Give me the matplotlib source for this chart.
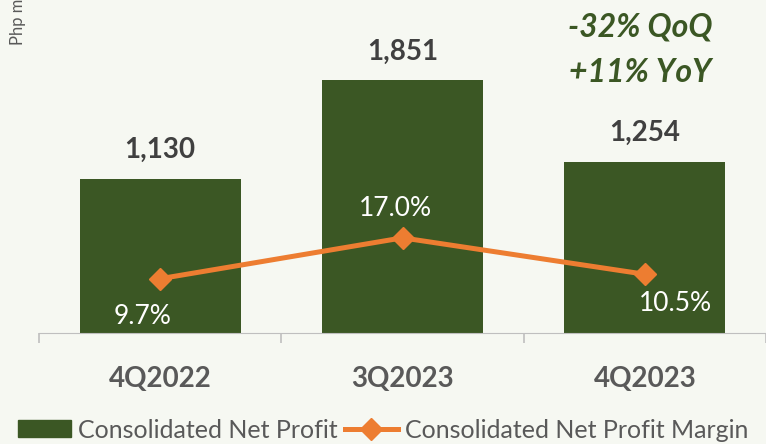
import matplotlib.pyplot as plt
from matplotlib.lines import Line2D
from matplotlib.patches import Patch

# data
quarters = ["4Q2022", "3Q2023", "4Q2023"]
net_profit = [1130, 1851, 1254]
margin = [9.7, 17.0, 10.5]
margin_labels = ["9.7%", "17.0%", "10.5%"]

green = "#3b5724"
orange = "#ed7d31"
grey = "#404040"
bg = "#f6f8f2"

plt.rcParams['font.family'] = ['Lato', 'DejaVu Sans']

fig = plt.figure(figsize=(7.66, 4.44), dpi=100, facecolor=bg)
ax = fig.add_axes([39 / 766, 111 / 444, 1 - 39 / 766, 333 / 444])
ax.set_facecolor(bg)

x = range(len(quarters))
ax.bar(x, net_profit, width=0.665, color=green, zorder=2)
ax.set_xlim(-0.5, 2.5)
ax.set_ylim(0, 2440)

for i, v in enumerate(net_profit):
    ax.annotate(f"{v:,}", (i, v), xytext=(0, 29), textcoords="offset pixels",
                ha="center", va="center", fontsize=20, fontweight="bold", color=grey)

for s in ["top", "left", "right"]:
    ax.spines[s].set_visible(False)
ax.spines["bottom"].set_color("#bfbfbf")
ax.set_yticks([])
ax.set_xticks(list(x))
ax.set_xticklabels(quarters, fontsize=20, fontweight="bold", color="#595959")
ax.tick_params(axis="x", which="major", length=0, pad=24)
ax.set_xticks([-0.5, 0.5, 1.5, 2.5], minor=True)
ax.tick_params(axis="x", which="minor", length=7.5, color="#bfbfbf", width=1.2)

ax2 = ax.twinx()
ax2.set_ylim(0, 59.5)
ax2.plot(list(x), margin, color=orange, lw=3.6, marker="D", markersize=11, zorder=3)
ax2.axis("off")

offsets = [(-18, -38), (-7, 29), (31, -29)]
for i, (m, lab) in enumerate(zip(margin, margin_labels)):
    ax2.annotate(lab, (i, m), xytext=offsets[i], textcoords="offset pixels",
                 ha="center", va="center", fontsize=19, color="white")

fig.text(640 / 766, 1 - 27 / 444, "-32% QoQ", ha="center", va="center",
         fontsize=23, fontweight="bold", style="italic", color=green)
fig.text(640 / 766, 1 - 72 / 444, "+11% YoY", ha="center", va="center",
         fontsize=23, fontweight="bold", style="italic", color=green)

fig.text(18 / 766, 1 - 45 / 444, "Php millions", rotation=90, ha="center",
         va="bottom", fontsize=12, color="#595959")

handles = [Patch(color=green, label="Consolidated Net Profit"),
           Line2D([], [], color=orange, lw=3.6, marker="D", markersize=11,
                  label="Consolidated Net Profit Margin")]
fig.legend(handles=handles, loc="center", bbox_to_anchor=(0.5, 1 - 430 / 444),
           ncol=2, frameon=False, fontsize=18, labelcolor="#595959",
           handlelength=2.1, handleheight=0.68, handletextpad=0.28,
           columnspacing=0.32, borderpad=0)

fig.savefig("out.png", dpi=100, facecolor=bg)
